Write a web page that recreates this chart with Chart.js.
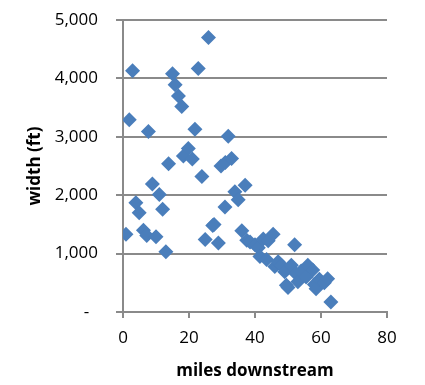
<!DOCTYPE html>
<html>
<head>
<meta charset="utf-8">
<script src="https://cdn.jsdelivr.net/npm/chart.js@4/dist/chart.umd.min.js"></script>
<style>
html,body{margin:0;padding:0;background:#fff;}
canvas{display:block;}
</style>
</head>
<body>
<canvas id="c" width="425" height="385"></canvas>
<script>
// miles downstream
const milesDownstream = [
  0.9, 1.9, 2.9, 3.9, 4.9, 6.2, 7.2, 7.7, 8.9, 10.0,
  11.0, 12.0, 13.0, 13.8, 15.0, 15.8, 16.8, 17.8, 18.3, 19.8,
  21.0, 21.8, 22.8, 23.9, 24.9, 25.9, 27.2, 27.6, 28.9, 29.7,
  30.9, 31.0, 31.9, 32.9, 33.9, 34.9, 36.0, 37.0, 37.5, 38.5,
  40.0, 41.0, 41.5, 42.5, 43.5, 44.0, 45.5, 46.0, 47.0, 48.0,
  49.0, 49.5, 50.0, 51.0, 52.0, 52.5, 53.0, 54.0, 55.5, 56.0,
  57.5, 58.0, 58.5, 59.5, 61.0, 62.0, 63.0
];
// width (ft)
const widthFt = [
  1330, 3290, 4130, 1870, 1700, 1400, 1310, 3090, 2190, 1290,
  2010, 1760, 1030, 2540, 4080, 3890, 3700, 3520, 2670, 2800,
  2620, 3130, 4170, 2320, 1240, 4700, 1480, 1500, 1180, 2500,
  1800, 2560, 3010, 2630, 2060, 1920, 1390, 2170, 1230, 1200,
  1150, 1100, 950, 1250, 900, 1220, 1330, 780, 860, 800,
  690, 460, 420, 800, 1150, 650, 520, 700, 600, 800,
  720, 470, 400, 560, 500, 570, 170
];
const xTickValues = [0, 20, 40, 60, 80];
const xTickLabels = ['0', '20', '40', '60', '80'];
const yTickValues = [0, 1000, 2000, 3000, 4000, 5000];
const yTickLabels = ['-  ', '1,000', '2,000', '3,000', '4,000', '5,000'];
const xTitle = 'miles downstream';
const yTitle = 'width (ft)';

const points = milesDownstream.map((m, i) => ({x: m, y: widthFt[i]}));
const axisGray = '#8a8a8a';
const fontFam = '"Open Sans", "Noto Sans", sans-serif';

new Chart(document.getElementById('c'), {
  type: 'scatter',
  data: {
    datasets: [{
      data: points,
      pointStyle: 'rectRot',
      pointRadius: 7.5,
      pointHoverRadius: 7.5,
      backgroundColor: '#4a7ebb',
      borderColor: '#4a7ebb',
      borderWidth: 0
    }]
  },
  options: {
    responsive: false,
    devicePixelRatio: 1,
    animation: false,
    layout: {padding: {left: 0, right: 38, top: 20, bottom: 0}},
    plugins: {legend: {display: false}, tooltip: {enabled: false}},
    scales: {
      x: {
        type: 'linear',
        min: 0, max: 80,
        afterBuildTicks: (s) => { s.ticks = xTickValues.map(v => ({value: v})); },
        afterFit: (s) => { s.height = 73; s.paddingLeft = 0; s.paddingRight = 0; },
        grid: {display: true, drawOnChartArea: false, drawTicks: true, tickLength: 6, color: axisGray, lineWidth: 2},
        border: {display: true, color: axisGray, width: 2},
        ticks: {
          color: '#000',
          font: {family: fontFam, size: 17},
          padding: 10,
          maxRotation: 0,
          callback: (v) => xTickLabels[xTickValues.indexOf(v)]
        },
        title: {display: true, text: xTitle, color: '#000', font: {family: fontFam, size: 17, weight: 'bold'}, padding: {top: 0, bottom: 4}}
      },
      y: {
        type: 'linear',
        min: 0, max: 5000,
        afterBuildTicks: (s) => { s.ticks = yTickValues.map(v => ({value: v})); },
        afterFit: (s) => { s.width = 123; s.paddingTop = 0; s.paddingBottom = 0; },
        grid: {display: true, drawTicks: true, tickLength: 7, color: axisGray, lineWidth: 2},
        border: {display: true, color: axisGray, width: 2},
        ticks: {
          color: '#000',
          font: {family: fontFam, size: 17},
          padding: 18,
          callback: (v) => yTickLabels[yTickValues.indexOf(v)]
        },
        title: {display: true, text: yTitle, color: '#000', font: {family: fontFam, size: 17, weight: 'bold'}, padding: {top: 25, bottom: 0}}
      }
    }
  }
});
</script>
</body>
</html>
